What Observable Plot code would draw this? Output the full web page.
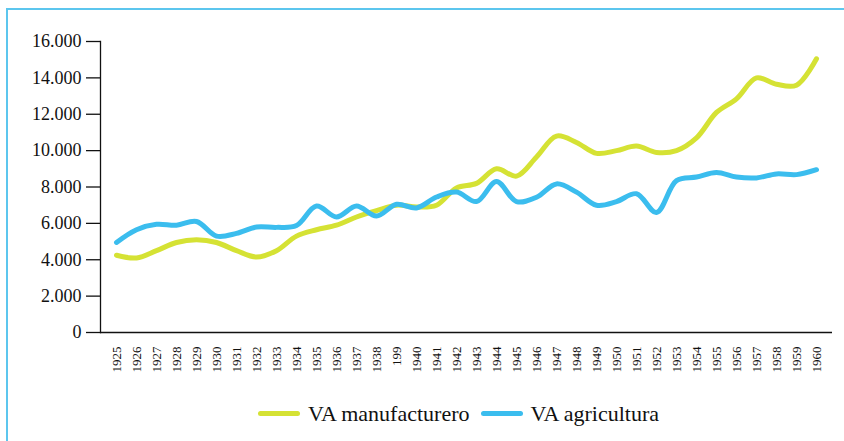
<!DOCTYPE html>
<html>
<head>
<meta charset="utf-8">
<script src="https://cdn.jsdelivr.net/npm/d3@7"></script>
<script src="https://cdn.jsdelivr.net/npm/@observablehq/plot@0.6"></script>
<style>
  html, body { margin: 0; padding: 0; background: #fff; }
  body { width: 844px; height: 441px; position: relative; overflow: hidden; }
  #frame { position: absolute; left: 6px; top: 8px; right: -10px; bottom: -10px;
           border-left: 2px solid #5cc6ee; border-top: 2px solid #5cc6ee; }
  #chart { position: absolute; left: 0; top: 0; }
  #legend { position: absolute; left: 258px; top: 396px; white-space: nowrap;
            font-family: 'Liberation Serif'; font-size: 22px; color: #111; }
  .item { display: inline-flex; align-items: center; margin-right: 11px; }
  .sw { display: inline-block; width: 42px; height: 5px; border-radius: 3px; margin-right: 8px; }
  #chart svg text { font-family: 'Liberation Serif'; }
</style>
</head>
<body>
<div id="frame"></div>
<div id="chart"></div>
<div id="legend"></div>
<script>
const years = [1925,1926,1927,1928,1929,1930,1931,1932,1933,1934,1935,1936,1937,1938,1939,1940,1941,1942,1943,1944,1945,1946,1947,1948,1949,1950,1951,1952,1953,1954,1955,1956,1957,1958,1959,1960];
const yearLabels = ["1925","1926","1927","1928","1929","1930","1931","1932","1933","1934","1935","1936","1937","1938","199","1940","1941","1942","1943","1944","1945","1946","1947","1948","1949","1950","1951","1952","1953","1954","1955","1956","1957","1958","1959","1960"];
const manufacturero = [4250,4100,4500,4950,5100,4950,4500,4150,4500,5300,5650,5900,6350,6700,7000,6900,7000,7950,8200,9000,8600,9650,10800,10450,9850,10000,10250,9900,10000,10700,12100,12850,14000,13650,13600,15050];
const agricultura = [4950,5650,5950,5900,6100,5300,5450,5800,5780,5880,6950,6350,6950,6400,7050,6850,7450,7720,7200,8300,7200,7440,8170,7720,7000,7200,7630,6600,8350,8550,8800,8550,8500,8720,8680,8950];
const seriesNames = ["VA manufacturero", "VA agricultura"];
const seriesColors = ["#d5e234", "#3bbdee"];
const yTicks = [0,2000,4000,6000,8000,10000,12000,14000,16000];

const rows = [];
years.forEach((y, i) => {
  rows.push({year: y, value: manufacturero[i], series: seriesNames[0]});
  rows.push({year: y, value: agricultura[i], series: seriesNames[1]});
});
const labelOf = new Map(years.map((y, i) => [y, yearLabels[i]]));
const fmt = d => d === 0 ? "0" : d3.format(",")(d).replace(/,/g, ".");

const chart = Plot.plot({
  width: 844,
  height: 392,
  marginLeft: 100,
  marginRight: 12,
  marginTop: 41,
  marginBottom: 60,
  style: {fontFamily: "'Liberation Serif'", background: "transparent", color: "#111"},
  x: {type: "point", domain: years, padding: 0.5},
  y: {domain: [0, 16000]},
  color: {domain: seriesNames, range: seriesColors},
  marks: [
    Plot.axisY({ticks: yTicks, tickFormat: fmt, tickSize: 14, tickPadding: 5, label: null, fontSize: 18, stroke: "#111", strokeWidth: 1.3}),
    Plot.frame({anchor: "left", stroke: "#111", strokeWidth: 1.3}),
    Plot.axisX({tickFormat: d => labelOf.get(d), tickSize: 0, tickPadding: 14, tickRotate: -90, label: null, fontSize: 13}),
    Plot.ruleY([0], {stroke: "#111", strokeWidth: 1.3}),
    Plot.line(rows, {x: "year", y: "value", z: "series", stroke: "series", strokeWidth: 5, curve: "catmull-rom", strokeLinecap: "round", strokeLinejoin: "round"})
  ]
});
document.getElementById("chart").appendChild(chart);

const legend = document.getElementById("legend");
seriesNames.forEach((name, i) => {
  const item = document.createElement("span");
  item.className = "item";
  const sw = document.createElement("span");
  sw.className = "sw";
  sw.style.background = seriesColors[i];
  item.appendChild(sw);
  item.appendChild(document.createTextNode(name));
  legend.appendChild(item);
});
</script>
</body>
</html>
